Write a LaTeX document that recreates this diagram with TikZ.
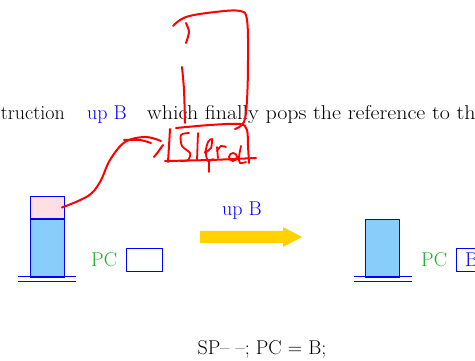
\documentclass[tikz,border=0pt]{standalone}
\usepackage{xcolor}
\usepackage{graphicx}
\definecolor{stackblue}{RGB}{135,206,250}
\definecolor{stackpink}{RGB}{255,222,228}
\definecolor{pcgreen}{RGB}{30,175,40}
\definecolor{arrowgold}{RGB}{255,210,0}
\definecolor{pen}{RGB}{255,0,0}
\begin{document}
\begin{tikzpicture}[x=1pt,y=-1pt,
  txt/.style={font=\fontsize{20}{24}\selectfont, inner sep=0pt},
  bluetxt/.style={txt, text=blue},
  pclabel/.style={txt, text=pcgreen},
  cell/.style={draw=blue, line width=1pt, inner sep=0pt},
  pcbox/.style={draw=blue, line width=1pt, inner sep=0pt, minimum width=36pt, minimum height=23pt},
  baseline/.style={draw=blue, line width=1pt},
  redpen/.style={draw=pen, line width=2pt, line cap=round, line join=round}]
\useasboundingbox (0,0) rectangle (475,361);
\clip (0,0) rectangle (475,361);
% sentence
\node[txt, anchor=base east] (t1) at (65,120) {truction};
\node[bluetxt, anchor=base west] (t2) at (87,120) {up B};
\node[txt, anchor=base west] (t3) at (147,120) {\scalebox{1.1}[1]{which finally pops the reference to the}};
% left stack
\node[cell, fill=stackblue, minimum width=34pt, minimum height=58pt, anchor=north west] (lblue) at (30,219) {};
\node[cell, fill=stackpink, minimum width=34pt, minimum height=22pt, anchor=south west] (lpink) at (30,219) {};
\coordinate (lb1) at (18,277); \coordinate (lb2) at (76,277);
\coordinate (lb3) at (18,282); \coordinate (lb4) at (76,282);
\draw[baseline] (lb1) -- (lb2);
\draw[baseline] (lb3) -- (lb4);
\node[pclabel, anchor=base west] (lpc) at (91,267) {PC};
\node[pcbox, anchor=north west] (lpcbox) at (126,248) {};
% transition arrow
\node[bluetxt, anchor=base west] (upb) at (222,215) {up B};
\coordinate (a1) at (200,231); \coordinate (a2) at (283,231);
\coordinate (a3) at (283,227); \coordinate (a4) at (302,237);
\coordinate (a5) at (283,247); \coordinate (a6) at (283,243);
\coordinate (a7) at (200,243);
\fill[arrowgold] (a1) -- (a2) -- (a3) -- (a4) -- (a5) -- (a6) -- (a7) -- cycle;
% right stack
\node[cell, fill=stackblue, minimum width=34pt, minimum height=58pt, anchor=north west] (rblue) at (365,219) {};
\coordinate (rb1) at (354,277); \coordinate (rb2) at (412,277);
\coordinate (rb3) at (354,282); \coordinate (rb4) at (412,282);
\draw[baseline] (rb1) -- (rb2);
\draw[baseline] (rb3) -- (rb4);
\node[pclabel, anchor=base west] (rpc) at (421,267) {PC};
\node[pcbox, minimum width=44pt, anchor=north west] (rpcbox) at (456,248) {};
\node[bluetxt, anchor=base west] (rB) at (465,267) {B};
% caption
\node[txt, anchor=base] (cap) at (262,355) {SP-- --; PC = B;};
% red annotations
\draw[redpen] plot[smooth, tension=0.6] coordinates {(173,26) (186,17) (215,12) (240,11) (247,20) (248,60) (247,100) (244,122) (235,129)};
\draw[redpen] plot[smooth] coordinates {(186,23) (189,32) (186,43)};
\draw[redpen] plot[smooth] coordinates {(182,67) (184,90) (185,123)};
% box
\draw[redpen] plot[smooth, tension=0.5] coordinates {(170,129) (169,146) (168,162)};
\draw[redpen] plot[smooth, tension=0.5] coordinates {(176,128) (210,125) (240,124) (247,130) (248,146) (249,163)};
\draw[redpen] plot[smooth, tension=0.5] coordinates {(165,161) (210,160) (256,158)};
% handwriting
\node[inner sep=0pt, minimum width=70pt, minimum height=30pt] (slerd) at (211,146) {};
\draw[redpen, line width=1.8pt] plot[smooth] coordinates {(189,133) (181,135) (182,146) (190,153) (188,160) (180,161)};
\draw[redpen, line width=1.8pt] (198,133) -- (197,160);
\draw[redpen, line width=1.8pt] plot[smooth] coordinates {(205,153) (208,142) (212,139) (211,148) (206,153) (208,161) (213,159)};
\draw[redpen, line width=1.8pt] (209,160) -- (209,172);
\draw[redpen, line width=1.8pt] (217,147) -- (218,158);
\draw[redpen, line width=1.8pt] plot[smooth] coordinates {(217,151) (221,146) (226,147)};
\draw[redpen, line width=1.8pt] (233,157) circle[radius=4];
\draw[redpen, line width=1.8pt] plot[smooth] coordinates {(241,146) (239,157) (240,163) (246,162)};
% red arrow from pink cell to box
\draw[redpen] plot[smooth, tension=0.6] coordinates {([xshift=-3pt]lpink.east) (88,196) (100,182) (110,160) (125,142) (145,137) (161,141)};
\draw[redpen] plot[smooth] coordinates {(124,140) (140,140) (151,143)};
\draw[redpen] plot[smooth] coordinates {(163,145) (158,152) (154,157)};
\end{tikzpicture}
\end{document}
